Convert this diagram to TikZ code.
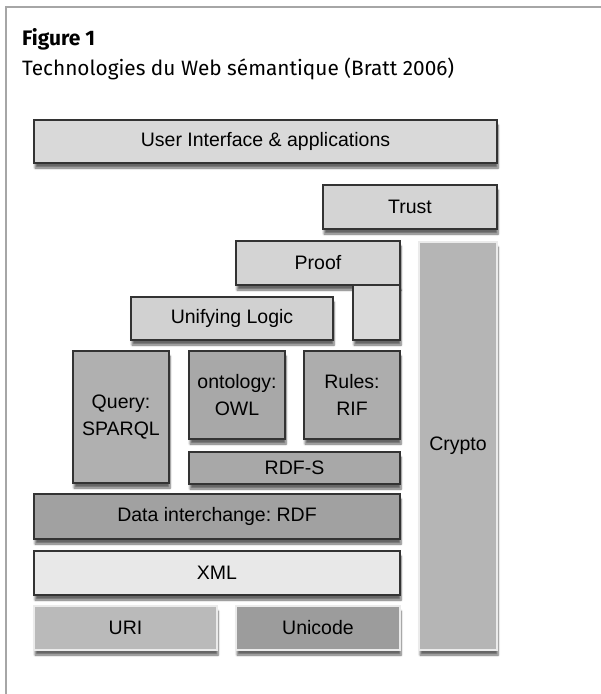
\documentclass[tikz,border=0pt]{standalone}
\usepackage{fontspec}
\setmainfont{Liberation Sans}
\newfontfamily\titlefont{Fira Sans}
\usetikzlibrary{shadows.blur}
\frenchspacing

\begin{document}
\begin{tikzpicture}[x=1pt,y=-1pt]
    \tikzset{layer/.style = {shape=rectangle, draw=black!80, line width=1.2pt, fill=black!15,
        align=center, inner sep=0pt, font=\fontsize{19.5}{27}\selectfont,
        blur shadow={shadow xshift=1pt, shadow yshift=-5pt, shadow blur steps=6, shadow opacity=60}}}
    \tikzset{pale/.style = {draw=black!8, line width=1.2pt}}
    \useasboundingbox (0,0) rectangle (601,694);

    % frame and caption
    \draw[black!35, line width=1.5pt] (6,694) -- (6,7) -- (601,7);
    \node[anchor=base west, inner sep=0pt, font=\titlefont\bfseries\fontsize{21}{24}\selectfont] (fig) at (22,45) {Figure 1};
    \node[anchor=base west, inner sep=0pt, font=\titlefont\fontsize{20.8}{24}\selectfont] (cap) at (22,75) {Technologies du Web sémantique (Bratt 2006)};

    % layers
    \node[layer, fill=black!15, minimum width=463, minimum height=43] (ui) at (265.5,141.5) {User Interface \& applications};
    \node[layer, fill=black!17, minimum width=174, minimum height=44] (trust) at (410,207) {Trust};
    \node[layer, fill=black!17, minimum width=164, minimum height=44] (proof) at (318,263) {Proof};
    \node[layer, fill=black!15, minimum width=47, minimum height=55] (proofext) at (376.5,312.5) {};
    \node[layer, fill=black!18, minimum width=202, minimum height=43] (logic) at (232,318.5) {Unifying Logic};
    \node[layer, fill=black!31, minimum width=96, minimum height=132] (query) at (121,417) {Query:\\SPARQL};
    \node[layer, fill=black!34, minimum width=96, minimum height=88] (owl) at (237,395) {ontology:\\OWL};
    \node[layer, fill=black!32, minimum width=96, minimum height=88] (rif) at (352,395) {Rules:\\RIF};
    \node[layer, fill=black!34, minimum width=211, minimum height=32] (rdfs) at (294.5,468) {RDF-S};
    \node[layer, fill=black!37, minimum width=366, minimum height=45] (rdf) at (217,516.5) {Data interchange: RDF};
    \node[layer, fill=black!9, minimum width=366, minimum height=44] (xml) at (217,573) {XML};
    \node[layer, pale, fill=black!27, minimum width=183, minimum height=44] (uri) at (125.5,628) {URI};
    \node[layer, pale, fill=black!39, minimum width=164, minimum height=44] (unicode) at (318,628) {Unicode};
    \node[layer, pale, fill=black!29, minimum width=78, minimum height=408] (crypto) at (458,446) {Crypto};
\end{tikzpicture}
\end{document}
